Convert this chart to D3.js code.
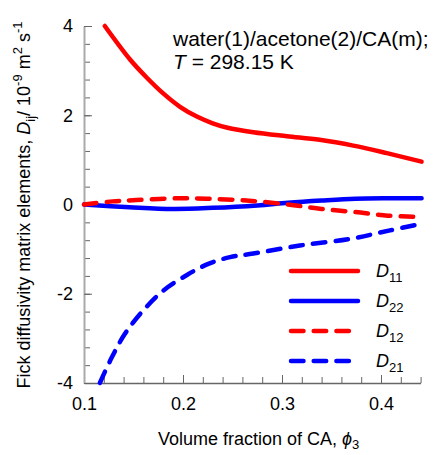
<!DOCTYPE html>
<html>
<head>
<meta charset="utf-8">
<script src="https://cdn.jsdelivr.net/npm/d3@7"></script>
<style>
  body { margin: 0; background: #fff; }
  svg text { font-family: "Liberation Sans", Arial, sans-serif; fill: #000; }
</style>
</head>
<body>
<div id="chart"></div>
<script>
// values
const phiD11 = [0.121, 0.1465, 0.164, 0.18, 0.197, 0.214, 0.23, 0.245, 0.271, 0.305, 0.338, 0.372, 0.406, 0.441];
const valD11 = [4.0, 3.25, 2.83, 2.49, 2.19, 1.97, 1.82, 1.72, 1.62, 1.53, 1.45, 1.32, 1.15, 0.96];

const phiD22 = [0.1, 0.146, 0.19, 0.23, 0.275, 0.306, 0.34, 0.374, 0.407, 0.441];
const valD22 = [0, -0.06, -0.1, -0.075, -0.02, 0.04, 0.09, 0.13, 0.14, 0.14];

const phiD12 = [0.1, 0.129, 0.153, 0.197, 0.224, 0.264, 0.306, 0.34, 0.374, 0.407, 0.44];
const valD12 = [0.0, 0.07, 0.1, 0.14, 0.13, 0.09, 0.0, -0.1, -0.17, -0.25, -0.28];

const phiD21 = [0.116, 0.128, 0.141, 0.158, 0.18, 0.204, 0.2256, 0.2475, 0.271, 0.318, 0.369, 0.409, 0.441];
const valD21 = [-4.0, -3.43, -2.91, -2.42, -1.93, -1.58, -1.33, -1.18, -1.1, -0.92, -0.77, -0.58, -0.43];

const seriesNames = ["11", "22", "12", "21"];
const xTickLabels = [0.1, 0.2, 0.3, 0.4];
const yTickLabels = [-4, -2, 0, 2, 4];

const W = 438, H = 455;
const svg = d3.select("#chart").append("svg")
  .attr("width", W).attr("height", H);

const x = d3.scaleLinear().domain([0.1, 0.44]).range([84, 420.6]);
const y = d3.scaleLinear().domain([-4, 4]).range([383, 26]);

// minor ticks
svg.append("g")
  .attr("transform", "translate(0,383)")
  .call(d3.axisBottom(x).tickValues(d3.range(0, 18).map(i => 0.1 + i * 0.02))
    .tickSizeInner(-6).tickSizeOuter(0).tickFormat(""))
  .call(g => g.select(".domain").remove())
  .call(g => g.selectAll("line").attr("stroke", "#666"));

svg.append("g")
  .attr("transform", "translate(84,0)")
  .call(d3.axisLeft(y).tickValues(d3.range(0, 21).map(i => -4 + i * 0.4))
    .tickSizeInner(-6).tickSizeOuter(0).tickFormat(""))
  .call(g => g.select(".domain").remove())
  .call(g => g.selectAll("line").attr("stroke", "#666"));

// major ticks + labels
const xAxis = svg.append("g")
  .attr("transform", "translate(0,383)")
  .call(d3.axisBottom(x).tickValues(xTickLabels)
    .tickSizeInner(-8).tickSizeOuter(0).tickPadding(14).tickFormat(d3.format(".1f")));
xAxis.select(".domain").attr("stroke", "#666").attr("stroke-width", 1.5);
xAxis.selectAll("line").attr("stroke", "#666");
xAxis.selectAll("text").style("font-size", "18px")
  .style("font-family", "'Liberation Sans', Arial, sans-serif").attr("fill", "#000");

const yAxis = svg.append("g")
  .attr("transform", "translate(84,0)")
  .call(d3.axisLeft(y).tickValues(yTickLabels)
    .tickSizeInner(-8).tickSizeOuter(0).tickPadding(11).tickFormat(d => String(d)));
yAxis.select(".domain").attr("stroke", "#aaa").attr("stroke-width", 2);
yAxis.selectAll("line").attr("stroke", "#666");
yAxis.selectAll("text").style("font-size", "18px")
  .style("font-family", "'Liberation Sans', Arial, sans-serif").attr("fill", "#000");

// curves
const line = d3.line()
  .x(d => x(d[0])).y(d => y(d[1]))
  .curve(d3.curveCatmullRom.alpha(0.5));

const series = [
  { phi: phiD11, val: valD11, color: "#ff0000", dash: null },
  { phi: phiD22, val: valD22, color: "#0000ff", dash: null },
  { phi: phiD12, val: valD12, color: "#ff0000", dash: "12.5,10.2" },
  { phi: phiD21, val: valD21, color: "#0000ff", dash: "12.5,10.2" }
];

series.forEach(s => {
  svg.append("path")
    .datum(s.phi.map((p, i) => [p, s.val[i]]))
    .attr("d", line)
    .attr("fill", "none")
    .attr("stroke", s.color)
    .attr("stroke-width", 4.5)
    .attr("stroke-linecap", "round")
    .attr("stroke-dasharray", s.dash);
});

// legend
const legend = svg.append("g");
series.forEach((s, i) => {
  const ly = 271 + i * 30;
  legend.append("line")
    .attr("x1", 291).attr("x2", s.dash ? 349 : 358)
    .attr("y1", ly).attr("y2", ly)
    .attr("stroke", s.color).attr("stroke-width", 4.5)
    .attr("stroke-linecap", "round")
    .attr("stroke-dasharray", s.dash);
  const t = legend.append("text").attr("x", 376).attr("y", ly + 6).style("font-size", "18px");
  t.append("tspan").style("font-style", "italic").text("D");
  t.append("tspan").attr("dy", 5).style("font-size", "13px").text(seriesNames[i]);
});

// annotation
svg.append("text").attr("x", 173).attr("y", 46).style("font-size", "21px")
  .text("water(1)/acetone(2)/CA(m);");
const t2 = svg.append("text").attr("x", 173).attr("y", 69).style("font-size", "21px");
t2.append("tspan").style("font-style", "italic").text("T");
t2.append("tspan").text(" = 298.15 K");

// x title
const xt = svg.append("text").attr("x", 158).attr("y", 445).style("font-size", "18px");
xt.append("tspan").text("Volume fraction of CA, ");
xt.append("tspan").style("font-style", "italic").text("\u03d5");
xt.append("tspan").attr("dy", 4).style("font-size", "13px").text("3");

// y title
const yt = svg.append("text")
  .attr("transform", "rotate(-90)")
  .attr("x", -205).attr("y", 30)
  .attr("text-anchor", "middle")
  .style("font-size", "18px");
yt.append("tspan").text("Fick diffusivity matrix elements, ");
yt.append("tspan").style("font-style", "italic").text("D");
yt.append("tspan").attr("dy", 5).style("font-size", "13px").text("ij");
yt.append("tspan").attr("dy", -5).text("/ 10");
yt.append("tspan").attr("dy", -8).style("font-size", "13px").text("-9");
yt.append("tspan").attr("dy", 8).text(" m");
yt.append("tspan").attr("dy", -8).style("font-size", "13px").text("2");
yt.append("tspan").attr("dy", 8).text(" s");
yt.append("tspan").attr("dy", -8).style("font-size", "13px").text("-1");
</script>
</body>
</html>
